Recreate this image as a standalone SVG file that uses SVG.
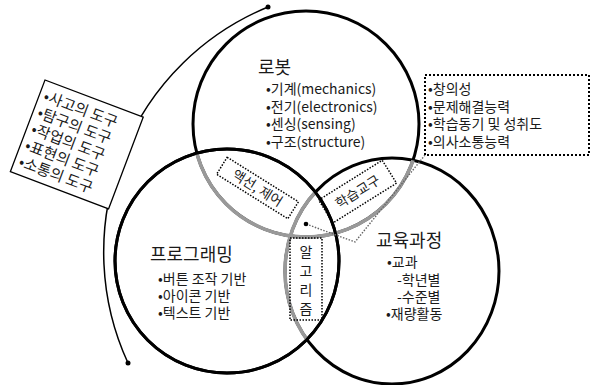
<svg xmlns="http://www.w3.org/2000/svg" width="592" height="385" viewBox="0 0 592 385">
<style>
text{font-family:"Noto Sans CJK KR","Noto Sans",sans-serif;fill:#1a1a1a}
.t{font-size:18px}
.i{font-size:14px}
.s{font-size:13.5px}
.blk{fill:none;stroke:#000;stroke-width:3}
.gry{fill:none;stroke:#999;stroke-width:3.6}
.dot{fill:none;stroke:#000;stroke-width:1.5;stroke-dasharray:1.5 1.5}
.dotg{fill:none;stroke:#666;stroke-width:1.4;stroke-dasharray:1.5 1.5}
</style>
<defs>
<clipPath id="cProg"><circle cx="227" cy="261" r="112"/></clipPath>
<clipPath id="cEdu"><ellipse cx="392" cy="271" rx="107" ry="113"/></clipPath>
</defs>
<g id="circles">
<circle class="blk" cx="306" cy="124" r="113"/>
<ellipse class="blk" cx="392" cy="271" rx="107" ry="113"/>
<circle class="blk" cx="227" cy="261" r="112"/>
<circle class="gry" cx="306" cy="124" r="113" clip-path="url(#cProg)"/>
<circle class="gry" cx="306" cy="124" r="113" clip-path="url(#cEdu)"/>
<ellipse class="gry" cx="392" cy="271" rx="107" ry="113" clip-path="url(#cProg)"/>
<circle class="blk" cx="227" cy="261" r="112"/>
</g>
<g id="connectors">
<path d="M268,7 A265,265 0 0 0 128,363" fill="none" stroke="#000" stroke-width="1.5"/>
<circle cx="268" cy="7" r="2.5" fill="#000"/>
<circle cx="128" cy="363" r="2.5" fill="#000"/>
<polyline class="dotg" points="425,155 355,242 306,224"/>
<circle cx="306" cy="224" r="2.3" fill="#000"/>
</g>
<g id="tools" transform="translate(45,80) rotate(20.7)">
<rect x="0" y="0" width="105" height="98" fill="#fff" stroke="#000" stroke-width="1.3"/>
<text class="i" style="font-size:15px"><tspan x="5" y="20">•사고의 도구</tspan><tspan x="5" dy="17.5">•탐구의 도구</tspan><tspan x="5" dy="17.5">•작업의 도구</tspan><tspan x="5" dy="17.5">•표현의 도구</tspan><tspan x="5" dy="17.5">•소통의 도구</tspan></text>
</g>
<g id="robot">
<text class="t" x="258" y="74">로봇</text>
<text class="i"><tspan x="266" y="94">•기계(mechanics)</tspan><tspan x="266" y="111.5">•전기(electronics)</tspan><tspan x="266" y="129">•센싱(sensing)</tspan><tspan x="266" y="146.5">•구조(structure)</tspan></text>
</g>
<g id="outcomes">
<rect x="425" y="75" width="164" height="80" fill="#fff" stroke="#000" stroke-width="2" stroke-dasharray="2 2"/>
<text class="i"><tspan x="428" y="94">•창의성</tspan><tspan x="428" y="111.5">•문제해결능력</tspan><tspan x="428" y="129">•학습동기 및 성취도</tspan><tspan x="428" y="146.5">•의사소통능력</tspan></text>
</g>
<g id="programming">
<text class="t" x="150" y="261">프로그래밍</text>
<text class="i"><tspan x="158" y="284">•버튼 조작 기반</tspan><tspan x="158" y="301">•아이콘 기반</tspan><tspan x="158" y="318">•텍스트 기반</tspan></text>
</g>
<g id="curriculum">
<text class="t" x="376" y="247">교육과정</text>
<text class="i"><tspan x="387" y="267">•교과</tspan><tspan x="397" y="284.5">-학년별</tspan><tspan x="397" y="302">-수준별</tspan><tspan x="386" y="319">•재량활동</tspan></text>
</g>
<g id="action" transform="translate(257.5,188) rotate(32)">
<rect class="dot" x="-42" y="-10" width="84" height="20"/>
<text class="s" x="0" y="5" text-anchor="middle">액선, 제어</text>
</g>
<g id="tool" transform="translate(357.6,191.6) rotate(-32)">
<rect class="dot" x="-37.5" y="-13.5" width="75" height="27"/>
<text class="s" x="0" y="5" text-anchor="middle">학습교구</text>
</g>
<g id="algorithm">
<rect class="dot" x="290" y="238" width="32" height="82"/>
<text class="i" text-anchor="middle"><tspan x="306" y="257">알</tspan><tspan x="306" y="276">고</tspan><tspan x="306" y="295">리</tspan><tspan x="306" y="314">즘</tspan></text>
</g>
</svg>
